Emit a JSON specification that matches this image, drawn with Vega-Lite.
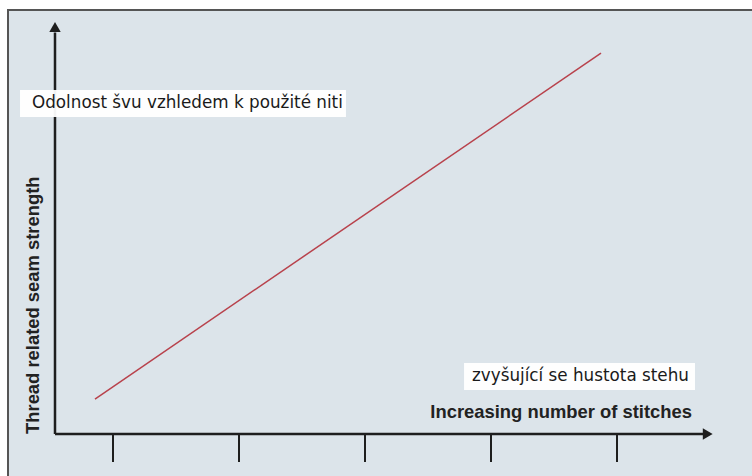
{
  "$schema": "https://vega.github.io/schema/vega-lite/v6.json",
  "width": 746,
  "height": 468,
  "padding": {"left": 8, "top": 10, "right": 0, "bottom": 0},
  "autosize": {"type": "none"},
  "background": "white",
  "config": {"view": {"fill": "#dce4ea", "stroke": "#555555", "strokeWidth": 2}},
  "datasets": {
    "axes": [
      {"part": "x", "x": 0.5397, "y": 0, "x2": 5.69, "y2": 0},
      {"part": "y", "x": 0.5397, "y": 0, "x2": 0.5397, "y2": 97}
    ],
    "arrows": [
      {"part": "x", "x": 5.72, "y": 0, "shape": "triangle-right"},
      {"part": "y", "x": 0.5397, "y": 98.3, "shape": "triangle-up"}
    ],
    "ticks": [{"t": 1}, {"t": 2}, {"t": 3}, {"t": 4}, {"t": 5}],
    "line": [{"stitches": 0.857, "strength": 8.45}, {"stitches": 4.873, "strength": 92.0}],
    "boxes": [
      {"label": "Odolnost švu vzhledem k použité niti", "x": 0.262, "x2": 2.849, "y": 76.57, "y2": 83.1, "tx": 0.357, "ty": 79.9},
      {"label": "zvyšující se hustota stehu", "x": 3.786, "x2": 5.619, "y": 10.63, "y2": 17.15, "tx": 3.849, "ty": 13.9}
    ],
    "xtitle": [{"label": "Increasing number of stitches", "x": 5.595, "y": 5.3}],
    "ytitle": [{"label": "Thread related seam strength", "x": 0.365, "y": 0}]
  },
  "layer": [
    {
      "data": {"name": "axes"},
      "mark": {"type": "rule", "color": "#1e1e1e", "strokeWidth": 2.5},
      "encoding": {
        "x": {"field": "x", "type": "quantitative", "scale": {"domain": [0.1667, 6.0873], "nice": false, "zero": false}, "axis": null},
        "y": {"field": "y", "type": "quantitative", "scale": {"domain": [-10.63, 102.42], "nice": false, "zero": false}, "axis": null},
        "x2": {"field": "x2"},
        "y2": {"field": "y2"}
      }
    },
    {
      "data": {"name": "arrows"},
      "mark": {"type": "point", "filled": true, "color": "#1e1e1e", "size": 130, "opacity": 1},
      "encoding": {
        "x": {"field": "x", "type": "quantitative"},
        "y": {"field": "y", "type": "quantitative"},
        "shape": {"field": "shape", "type": "nominal", "scale": null, "legend": null}
      }
    },
    {
      "data": {"name": "ticks"},
      "mark": {"type": "rule", "color": "#1e1e1e", "strokeWidth": 2},
      "encoding": {
        "x": {"field": "t", "type": "quantitative"},
        "y": {"datum": 0},
        "y2": {"datum": -6.76}
      }
    },
    {
      "data": {"name": "line"},
      "mark": {"type": "line", "color": "#b8424c", "strokeWidth": 1.5},
      "encoding": {
        "x": {"field": "stitches", "type": "quantitative"},
        "y": {"field": "strength", "type": "quantitative"}
      }
    },
    {
      "data": {"name": "boxes"},
      "mark": {"type": "rect", "fill": "white", "opacity": 0.95},
      "encoding": {
        "x": {"field": "x", "type": "quantitative"},
        "x2": {"field": "x2"},
        "y": {"field": "y", "type": "quantitative"},
        "y2": {"field": "y2"}
      }
    },
    {
      "data": {"name": "boxes"},
      "mark": {"type": "text", "align": "left", "baseline": "middle", "font": "DejaVu Sans", "fontSize": 16.8, "color": "#1a1a1a"},
      "encoding": {
        "x": {"field": "tx", "type": "quantitative"},
        "y": {"field": "ty", "type": "quantitative"},
        "text": {"field": "label"}
      }
    },
    {
      "data": {"name": "xtitle"},
      "mark": {"type": "text", "align": "right", "baseline": "middle", "font": "Liberation Sans", "fontWeight": "bold", "fontSize": 18.4, "color": "#222222"},
      "encoding": {
        "x": {"field": "x", "type": "quantitative"},
        "y": {"field": "y", "type": "quantitative"},
        "text": {"field": "label"}
      }
    },
    {
      "data": {"name": "ytitle"},
      "mark": {"type": "text", "align": "left", "baseline": "middle", "angle": 270, "font": "Liberation Sans", "fontWeight": "bold", "fontSize": 18.4, "color": "#222222"},
      "encoding": {
        "x": {"field": "x", "type": "quantitative"},
        "y": {"field": "y", "type": "quantitative"},
        "text": {"field": "label"}
      }
    }
  ]
}
